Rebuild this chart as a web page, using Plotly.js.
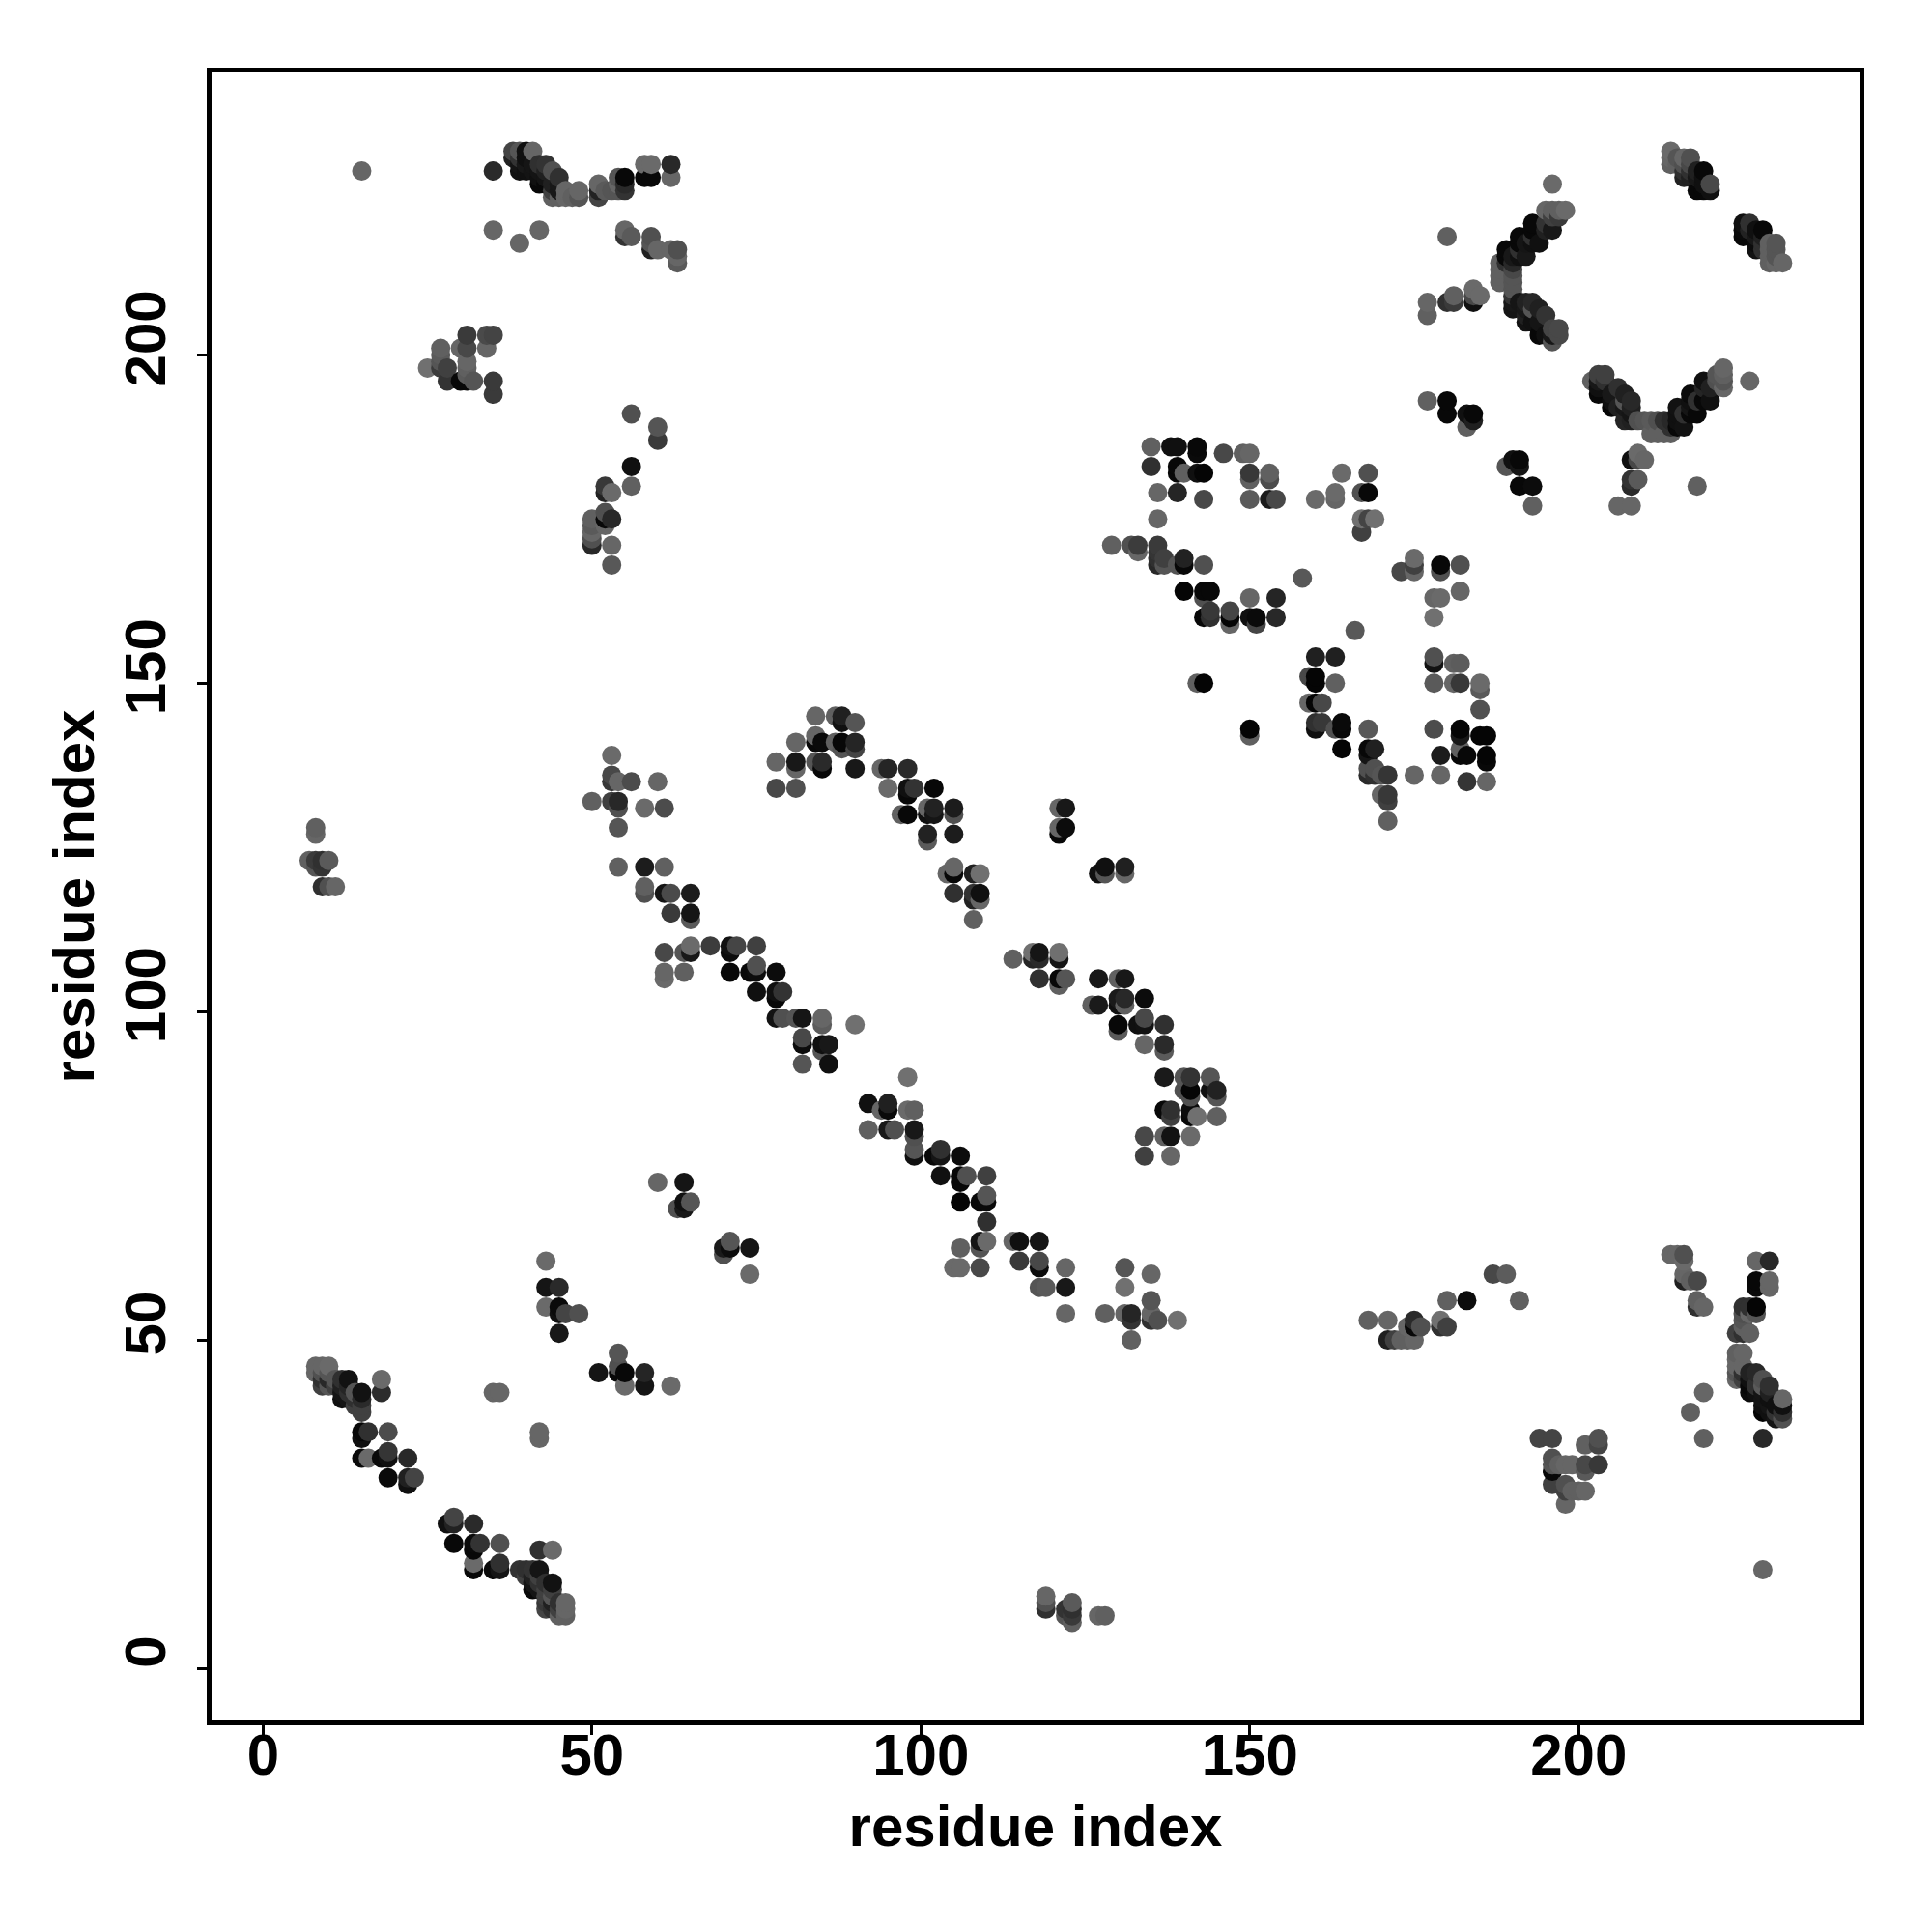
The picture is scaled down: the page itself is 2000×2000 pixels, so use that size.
<!DOCTYPE html>
<html>
<head>
<meta charset="utf-8">
<script src="https://cdn.plot.ly/plotly-3.0.1.min.js"></script>
<style>html,body{margin:0;padding:0;background:#fff}</style>
</head>
<body>
<div id="chart" style="width:2000px;height:2000px"></div>
<script>
// each contact: [residue i, residue j, grey level 0-255]
const topLeftCluster = [[15,228,0x66],[35,228,0x2a],[38,231,0x44],[39,231,0x55],[40,231,0x10],[41,231,0x66],[38,230,0x22],[39,230,0x33],[40,230,0x10],[39,229,0x14],[39,228,0x10],[40,229,0x18],[41,229,0x15],[42,229,0x30],[43,229,0x33],[41,228,0x14],[42,228,0x14],[42,227,0x10],[42,226,0x08],[43,228,0x20],[44,228,0x50],[45,227,0x30],[43,227,0x14],[44,226,0x20],[45,226,0x18],[44,225,0x40],[45,225,0x18],[44,224,0x60],[45,224,0x60],[46,225,0x66],[46,224,0x66],[47,224,0x60],[48,225,0x66],[48,224,0x55],[51,226,0x66],[51,225,0x22],[51,224,0x44],[52,225,0x5a],[54,226,0x66],[54,225,0x55],[55,227,0x08],[55,226,0x2a],[55,225,0x33],[58,229,0x6a],[59,229,0x6a],[58,227,0x08],[59,227,0x08],[62,229,0x28],[62,227,0x66],[35,219,0x66],[39,217,0x66],[42,219,0x66],[55,219,0x66],[55,218,0x33],[56,218,0x5a],[59,218,0x50],[59,217,0x55],[59,216,0x22],[60,216,0x66],[62,216,0x66],[63,216,0x50],[63,215,0x66],[63,214,0x5a]];
const cluster200 = [[25,198,0x70],[27,201,0x60],[27,200,0x5a],[27,199,0x55],[27,198,0x3a],[28,198,0x40],[28,196,0x33],[30,201,0x66],[31,203,0x3a],[31,201,0x48],[31,199,0x66],[31,198,0x60],[31,197,0x5a],[31,196,0x08],[32,196,0x55],[34,201,0x66],[34,203,0x4a],[35,203,0x44],[35,196,0x3a],[35,194,0x3a]];
const strand50 = [[56,191,0x50],[60,189,0x55],[60,187,0x3a],[56,183,0x10],[56,180,0x60],[52,180,0x38],[52,179,0x22],[53,179,0x6a],[52,176,0x50],[52,175,0x08],[52,174,0x66],[53,175,0x28],[50,175,0x60],[50,174,0x5a],[50,173,0x66],[50,172,0x50],[50,171,0x28],[53,171,0x66],[53,168,0x58]];
const cluster130 = [[53,139,0x6a],[53,136,0x48],[53,135,0x38],[54,135,0x66],[56,135,0x4c],[60,135,0x66],[50,132,0x60],[53,132,0x40],[54,132,0x28],[54,131,0x50],[58,131,0x6a],[61,131,0x4c],[54,128,0x55],[54,122,0x60],[58,122,0x1c],[61,122,0x60]];
const bandUpper = [[84,145,0x66],[87,145,0x60],[88,145,0x20],[88,144,0x10],[90,144,0x55],[84,142,0x66],[81,141,0x66],[84,141,0x08],[85,141,0x0a],[87,141,0x60],[88,141,0x08],[88,140,0x55],[90,141,0x25],[90,140,0x44],[78,138,0x66],[81,138,0x18],[81,137,0x66],[84,138,0x55],[85,138,0x2a],[85,137,0x08],[90,137,0x18],[78,134,0x48],[81,134,0x50],[94,137,0x66],[95,137,0x25],[98,137,0x2a],[95,134,0x6a],[98,134,0x10],[98,133,0x08],[99,134,0x33],[102,134,0x08],[97,130,0x60],[98,130,0x08],[101,131,0x66],[101,130,0x10],[102,131,0x22],[102,130,0x15],[105,131,0x1c],[105,130,0x50],[101,127,0x22],[101,126,0x5a],[105,127,0x1c],[121,131,0x66],[122,131,0x18],[121,128,0x66],[121,127,0x08],[122,128,0x0c],[127,121,0x10],[128,122,0x10],[128,121,0x55],[131,122,0x20],[131,121,0x66],[105,122,0x66],[104,121,0x66],[105,121,0x08],[108,121,0x20],[109,121,0x70],[105,118,0x30],[108,118,0x33],[108,117,0x22],[109,118,0x10],[109,117,0x66],[108,114,0x60]];
const bandLowerA = [[58,119,0x60],[58,118,0x50],[61,118,0x15],[62,118,0x4a],[65,118,0x1c],[62,115,0x3a],[65,115,0x15],[65,114,0x5a],[61,109,0x48],[64,109,0x55],[65,110,0x6a],[65,109,0x18],[68,110,0x3c],[71,110,0x12],[71,109,0x0c],[72,110,0x45],[75,110,0x40],[61,106,0x66],[61,105,0x6a],[64,106,0x60],[71,106,0x08],[74,106,0x08],[75,107,0x50],[75,106,0x0c],[78,106,0x0c],[75,103,0x10],[78,103,0x10],[78,102,0x08],[79,103,0x33],[78,99,0x12],[79,99,0x50],[81,99,0x55],[82,99,0x15],[85,99,0x66],[85,98,0x5c],[90,98,0x70],[82,96,0x48],[82,95,0x0c],[85,95,0x10],[85,94,0x55],[86,95,0x18],[82,92,0x55],[86,92,0x10]];
const bandUpperB = [[114,108,0x60],[117,109,0x70],[118,109,0x15],[117,108,0x25],[118,108,0x2a],[121,109,0x70],[121,108,0x15],[118,105,0x30],[121,105,0x08],[121,104,0x60],[122,105,0x55],[127,105,0x18],[130,105,0x60],[131,105,0x18],[126,101,0x60],[127,101,0x1a],[130,102,0x1a],[130,101,0x10],[131,102,0x28],[131,101,0x60],[134,102,0x0c],[130,98,0x08],[130,97,0x5a],[133,98,0x10],[134,99,0x48],[134,98,0x12],[137,98,0x30],[134,95,0x66],[137,95,0x2a],[137,94,0x5a],[137,90,0x1a],[140,90,0x55],[141,90,0x33],[144,90,0x55],[140,88,0x50],[141,88,0x05],[141,87,0x50],[144,88,0x10],[145,88,0x22],[145,87,0x55],[137,85,0x08],[138,85,0x30],[138,84,0x40],[141,85,0x0c],[141,84,0x08],[142,84,0x70],[145,84,0x60],[134,81,0x48],[137,81,0x60],[138,81,0x12],[141,81,0x6a],[134,78,0x40],[138,78,0x66]];
const bandLowerB = [[92,86,0x10],[95,86,0x20],[94,85,0x66],[95,85,0x0a],[98,85,0x6a],[99,85,0x60],[92,82,0x60],[95,82,0x18],[96,82,0x50],[99,82,0x18],[99,81,0x50],[98,90,0x70],[99,79,0x55],[99,78,0x10],[102,78,0x08],[103,79,0x30],[103,78,0x15],[106,78,0x0c],[103,75,0x10],[106,75,0x08],[106,74,0x08],[107,75,0x50],[110,75,0x40],[106,71,0x05],[109,71,0x08],[110,72,0x55],[110,71,0x0a],[110,68,0x30],[109,65,0x15],[110,65,0x6a],[109,64,0x55],[106,64,0x60],[105,61,0x6a],[106,61,0x6a],[109,61,0x48],[114,65,0x66],[115,65,0x10],[118,65,0x15],[115,62,0x3a],[118,62,0x48],[118,61,0x0c],[122,61,0x66],[118,58,0x55],[119,58,0x5a],[122,58,0x18],[122,54,0x66],[131,61,0x55],[135,60,0x66],[131,58,0x70],[135,56,0x55],[128,54,0x60],[131,54,0x66],[132,54,0x25],[132,53,0x33],[135,54,0x66],[135,53,0x30],[136,53,0x50],[139,53,0x70],[132,50,0x60]];
const lowerLeft = [[60,74,0x66],[64,74,0x15],[63,70,0x50],[64,70,0x18],[64,71,0x10],[65,71,0x55],[70,64,0x1a],[70,63,0x50],[71,65,0x55],[71,64,0x0c],[74,64,0x15],[74,60,0x6a],[43,62,0x6a],[43,58,0x15],[45,58,0x2a],[43,55,0x6a],[45,55,0x0a],[45,54,0x10],[46,54,0x44],[48,54,0x50],[45,51,0x18],[54,48,0x55],[54,46,0x50],[54,45,0x08],[51,45,0x15],[55,45,0x08],[58,45,0x25],[55,43,0x6a],[58,43,0x15],[62,43,0x6a],[35,42,0x66],[36,42,0x66],[42,36,0x66],[42,35,0x66]];
const diagonalLow = [[8,46,0x66],[8,45,0x66],[9,46,0x66],[10,46,0x6a],[9,45,0x50],[9,44,0x30],[9,43,0x40],[10,45,0x55],[10,44,0x28],[10,43,0x55],[11,44,0x55],[12,44,0x30],[13,44,0x12],[12,43,0x20],[12,42,0x15],[12,41,0x10],[13,43,0x25],[14,42,0x55],[14,41,0x30],[15,42,0x12],[18,44,0x6a],[18,42,0x2c],[15,41,0x2a],[15,40,0x40],[15,39,0x40],[15,36,0x08],[15,35,0x10],[16,36,0x30],[19,36,0x4c],[15,32,0x0a],[16,32,0x6a],[18,32,0x0a],[19,33,0x35],[19,32,0x10],[22,32,0x28],[19,29,0x0a],[22,29,0x20],[22,28,0x10],[23,29,0x44],[28,22,0x10],[29,23,0x44],[29,22,0x22],[32,22,0x2a],[29,19,0x08],[32,19,0x0a],[32,18,0x08],[33,19,0x33],[36,19,0x50],[32,16,0x6a],[32,15,0x08],[35,15,0x0a],[36,16,0x30],[36,15,0x15],[42,18,0x30],[44,18,0x6a],[39,15,0x33],[40,15,0x30],[41,15,0x33],[42,15,0x15],[40,14,0x40],[41,14,0x20],[41,13,0x15],[41,12,0x08],[42,14,0x40],[42,13,0x30],[43,13,0x30],[44,13,0x12],[43,12,0x40],[44,12,0x40],[43,11,0x40],[43,10,0x38],[43,9,0x44],[44,10,0x20],[44,9,0x30],[45,10,0x30],[45,9,0x40],[45,8,0x60],[46,10,0x66],[46,9,0x66],[46,8,0x60]];
const lowerMiddle = [[168,53,0x60],[171,53,0x66],[171,50,0x20],[172,50,0x40],[173,50,0x60],[174,50,0x60],[175,50,0x66],[174,52,0x66],[175,53,0x2a],[175,52,0x08],[176,52,0x50],[179,53,0x70],[179,52,0x30],[180,52,0x40],[180,56,0x60],[183,56,0x0c],[191,56,0x60],[187,60,0x48],[189,60,0x5c]];
const lowerRight = [[214,63,0x66],[215,63,0x66],[216,63,0x50],[216,62,0x6a],[216,60,0x66],[216,59,0x20],[217,59,0x60],[218,59,0x48],[218,56,0x60],[218,55,0x30],[219,55,0x66],[227,62,0x66],[229,62,0x28],[227,59,0x08],[227,58,0x0a],[229,59,0x66],[229,58,0x66],[225,55,0x30],[226,55,0x30],[227,55,0x05],[225,54,0x50],[227,54,0x55],[225,53,0x55],[225,52,0x60],[224,51,0x40],[225,51,0x30],[226,51,0x60],[224,48,0x60],[225,48,0x66],[224,47,0x66],[224,46,0x66],[224,45,0x55],[224,44,0x66],[225,45,0x30],[226,45,0x22],[227,45,0x28],[226,44,0x10],[226,43,0x08],[226,42,0x0c],[227,43,0x30],[227,42,0x10],[228,43,0x5a],[229,43,0x30],[228,39,0x05],[228,40,0x10],[229,42,0x20],[229,41,0x10],[229,40,0x15],[229,39,0x10],[231,41,0x66],[231,40,0x10],[231,39,0x30],[230,38,0x15],[231,38,0x50],[219,42,0x66],[217,39,0x60],[219,35,0x60],[228,35,0x28],[228,15,0x66]];
const cluster30 = [[194,35,0x44],[196,35,0x44],[201,34,0x60],[203,35,0x50],[203,34,0x45],[196,32,0x50],[196,31,0x55],[196,30,0x08],[197,31,0x60],[198,31,0x66],[199,31,0x66],[201,31,0x48],[203,31,0x38],[201,30,0x5a],[196,28,0x40],[198,28,0x50],[198,27,0x40],[199,27,0x60],[200,27,0x60],[201,27,0x66],[198,25,0x66]];
const nearBottom = [[119,11,0x66],[119,10,0x50],[119,9,0x30],[122,9,0x33],[122,8,0x55],[123,10,0x5a],[123,9,0x30],[123,8,0x3a],[123,7,0x60],[127,8,0x66],[128,8,0x60]];
const topRightA = [[214,231,0x6a],[214,230,0x66],[214,229,0x60],[216,230,0x66],[216,229,0x50],[216,228,0x30],[216,227,0x22],[217,230,0x50],[217,229,0x48],[217,228,0x30],[217,227,0x20],[218,228,0x20],[218,227,0x18],[219,228,0x08],[219,227,0x10],[219,226,0x10],[219,225,0x08],[220,226,0x48],[220,225,0x10]];
const leftArm = [[196,226,0x6a],[180,218,0x60],[195,222,0x66],[196,222,0x60],[197,222,0x60],[198,222,0x6a],[197,221,0x3a],[196,221,0x40],[193,220,0x08],[196,219,0x18],[195,220,0x33],[195,219,0x20],[193,219,0x08],[191,218,0x08],[193,218,0x30],[191,217,0x08],[194,217,0x10],[189,216,0x08],[191,216,0x30],[192,215,0x18],[189,215,0x08],[190,215,0x18],[188,214,0x60],[190,214,0x28],[189,214,0x30],[188,213,0x60],[190,213,0x48],[188,212,0x60],[190,212,0x55],[188,211,0x60],[190,211,0x55],[190,210,0x55],[190,209,0x33],[190,208,0x18],[190,207,0x15],[192,208,0x22],[193,208,0x28],[192,207,0x18],[192,206,0x20],[192,205,0x12],[194,207,0x20],[194,205,0x15],[195,206,0x33],[196,204,0x45],[194,203,0x08],[197,204,0x48],[197,203,0x48],[196,202,0x55],[177,208,0x66],[177,206,0x60],[180,208,0x30],[181,209,0x60],[181,208,0x3a],[184,210,0x6a],[184,209,0x48],[184,208,0x10],[185,209,0x6a]];
const rightArm = [[226,220,0x30],[228,219,0x08],[225,219,0x0a],[226,219,0x22],[225,218,0x08],[227,217,0x0c],[227,216,0x12],[230,217,0x55],[229,217,0x60],[229,216,0x60],[229,215,0x60],[229,214,0x60],[231,214,0x66],[230,215,0x55],[230,216,0x55]];
const vShape = [[202,196,0x60],[203,197,0x40],[204,197,0x40],[203,196,0x18],[203,195,0x10],[203,194,0x08],[204,196,0x30],[205,193,0x10],[206,195,0x30],[205,194,0x18],[205,192,0x05],[207,193,0x55],[207,190,0x25],[208,193,0x28],[208,192,0x20],[208,191,0x15],[208,190,0x20],[209,190,0x50],[210,190,0x55],[211,190,0x5a],[211,188,0x60],[212,190,0x50],[212,188,0x60],[213,190,0x30],[213,188,0x60],[214,188,0x60],[214,190,0x28],[214,189,0x30],[215,192,0x12],[215,191,0x10],[215,190,0x10],[215,189,0x08],[216,189,0x12],[217,194,0x0a],[217,193,0x10],[217,192,0x15],[218,193,0x30],[218,191,0x08],[219,196,0x10],[219,195,0x25],[220,193,0x10],[220,195,0x20],[221,197,0x55],[221,196,0x50],[222,198,0x66],[222,197,0x60],[222,195,0x66],[222,196,0x55],[226,196,0x66],[177,193,0x60],[180,193,0x08],[180,191,0x08],[183,189,0x60],[183,191,0x10],[184,191,0x08],[184,190,0x20],[189,183,0x55],[190,184,0x10],[191,184,0x08],[191,183,0x15],[191,180,0x08],[193,180,0x0c],[193,177,0x60],[208,184,0x10],[209,185,0x6a],[210,184,0x66],[208,180,0x2a],[209,181,0x5a],[208,181,0x33],[206,177,0x66],[208,177,0x66],[218,180,0x60]];
const centerRightA = [[135,186,0x60],[138,186,0x10],[139,186,0x10],[142,186,0x08],[142,185,0x0a],[146,185,0x48],[149,185,0x60],[150,185,0x66],[135,183,0x30],[139,183,0x08],[139,182,0x08],[140,182,0x60],[142,182,0x10],[143,182,0x05],[150,182,0x38],[150,181,0x60],[153,182,0x60],[153,181,0x4c],[164,182,0x6a],[168,182,0x50],[136,179,0x66],[139,179,0x25],[143,178,0x48],[150,178,0x5a],[153,178,0x1c],[154,178,0x48],[160,178,0x6a],[163,179,0x6a],[163,178,0x66],[167,179,0x50],[168,179,0x08],[167,175,0x70],[168,175,0x44],[169,175,0x70],[167,173,0x40],[136,175,0x66],[129,171,0x60],[132,171,0x50],[133,171,0x3c],[133,170,0x66],[136,171,0x3a],[136,170,0x35],[136,169,0x30],[136,168,0x28],[137,169,0x40],[137,168,0x55],[139,168,0x55],[140,169,0x22],[140,168,0x08],[143,168,0x50],[140,164,0x05],[143,164,0x08],[144,164,0x08],[143,163,0x50],[150,163,0x66],[154,163,0x25],[143,160,0x08],[144,161,0x38],[144,160,0x30],[147,161,0x45],[147,160,0x05],[147,159,0x66],[150,160,0x10],[151,160,0x0a],[151,159,0x45],[154,160,0x28]];
const centerRightB = [[158,166,0x58],[166,158,0x58],[143,150,0x05],[142,150,0x60],[150,143,0x05],[150,142,0x60],[160,154,0x20],[163,154,0x20],[159,151,0x48],[160,151,0x05],[160,150,0x05],[163,150,0x60],[159,147,0x66],[160,147,0x05],[161,147,0x48],[160,144,0x30],[161,144,0x38],[160,143,0x10],[163,143,0x50],[164,144,0x0a],[164,143,0x08],[168,143,0x58],[164,140,0x05],[168,140,0x08],[169,140,0x20],[168,139,0x15],[168,137,0x50],[169,137,0x50],[168,136,0x2a],[170,136,0x55],[171,136,0x35],[175,136,0x66],[170,133,0x66],[171,133,0x38],[171,132,0x40],[171,129,0x60],[173,167,0x48],[175,169,0x6a],[175,168,0x40],[175,167,0x66],[179,168,0x08],[179,167,0x50],[182,168,0x50],[182,164,0x66],[178,163,0x66],[179,163,0x6a],[178,160,0x70],[178,154,0x50],[178,153,0x12],[181,153,0x60],[182,153,0x5c],[178,150,0x5a],[181,150,0x66],[182,150,0x38],[185,150,0x6a],[185,149,0x5a],[185,146,0x50],[178,143,0x4c],[182,143,0x05],[182,142,0x18],[185,142,0x05],[186,142,0x05],[182,140,0x60],[179,139,0x1c],[182,139,0x08],[183,139,0x08],[186,139,0x05],[186,138,0x08],[179,136,0x66],[183,135,0x35],[186,135,0x66]];

const tickValues = [0, 50, 100, 150, 200];
const axisLabel = 'residue index';

const groups = [topLeftCluster, cluster200, strand50, cluster130, bandUpper, bandLowerA, bandUpperB, bandLowerB, lowerLeft, diagonalLow, lowerMiddle, lowerRight, cluster30, nearBottom, topRightA, leftArm, rightArm, vShape, centerRightA, centerRightB];

// the contact map is symmetric: every contact read on one side also holds on the other
const contacts = new Map();
groups.forEach(g => g.forEach(([i, j, s]) => { if (!contacts.has(i + ',' + j)) contacts.set(i + ',' + j, [i, j, s]); }));
[...contacts.values()].forEach(([i, j, s]) => { if (!contacts.has(j + ',' + i)) contacts.set(j + ',' + i, [j, i, s]); });
const points = [...contacts.values()].sort((a, b) => a[0] - b[0] || a[1] - b[1]);

const family = '"Liberation Sans", Arial, sans-serif';
const axisCommon = {
  tickmode: 'array', tickvals: tickValues, ticktext: tickValues.map(String),
  ticks: 'outside', ticklen: 10, tickwidth: 3, tickcolor: '#000',
  showgrid: false, zeroline: false, showline: true, mirror: true, linecolor: '#000', linewidth: 5,
  tickfont: {family: family, size: 60, color: '#000', weight: 700}
};
Plotly.newPlot('chart', [{
  type: 'scatter', mode: 'markers',
  x: points.map(p => p[0]), y: points.map(p => p[1]),
  marker: {size: 20, color: points.map(p => `rgb(${p[2]},${p[2]},${p[2]})`), line: {width: 0}},
  hoverinfo: 'x+y'
}], {
  width: 2000, height: 2000,
  margin: {l: 219, r: 75, t: 75, b: 219, pad: 0},
  paper_bgcolor: '#fff', plot_bgcolor: '#fff', showlegend: false,
  xaxis: Object.assign({}, axisCommon, {
    range: [-7.83, 242.7], tickangle: 0, ticklabelstandoff: -31,
    title: {text: axisLabel, standoff: 21, font: {family: family, size: 60, color: '#000', weight: 700}}
  }),
  yaxis: Object.assign({}, axisCommon, {
    range: [-7.94, 243.0], tickangle: -90, ticklabelstandoff: 9, ticklabelshift: -8,
    title: {text: axisLabel, standoff: 2, font: {family: family, size: 60, color: '#000', weight: 700}}
  })
}, {staticPlot: true});
</script>
</body>
</html>
